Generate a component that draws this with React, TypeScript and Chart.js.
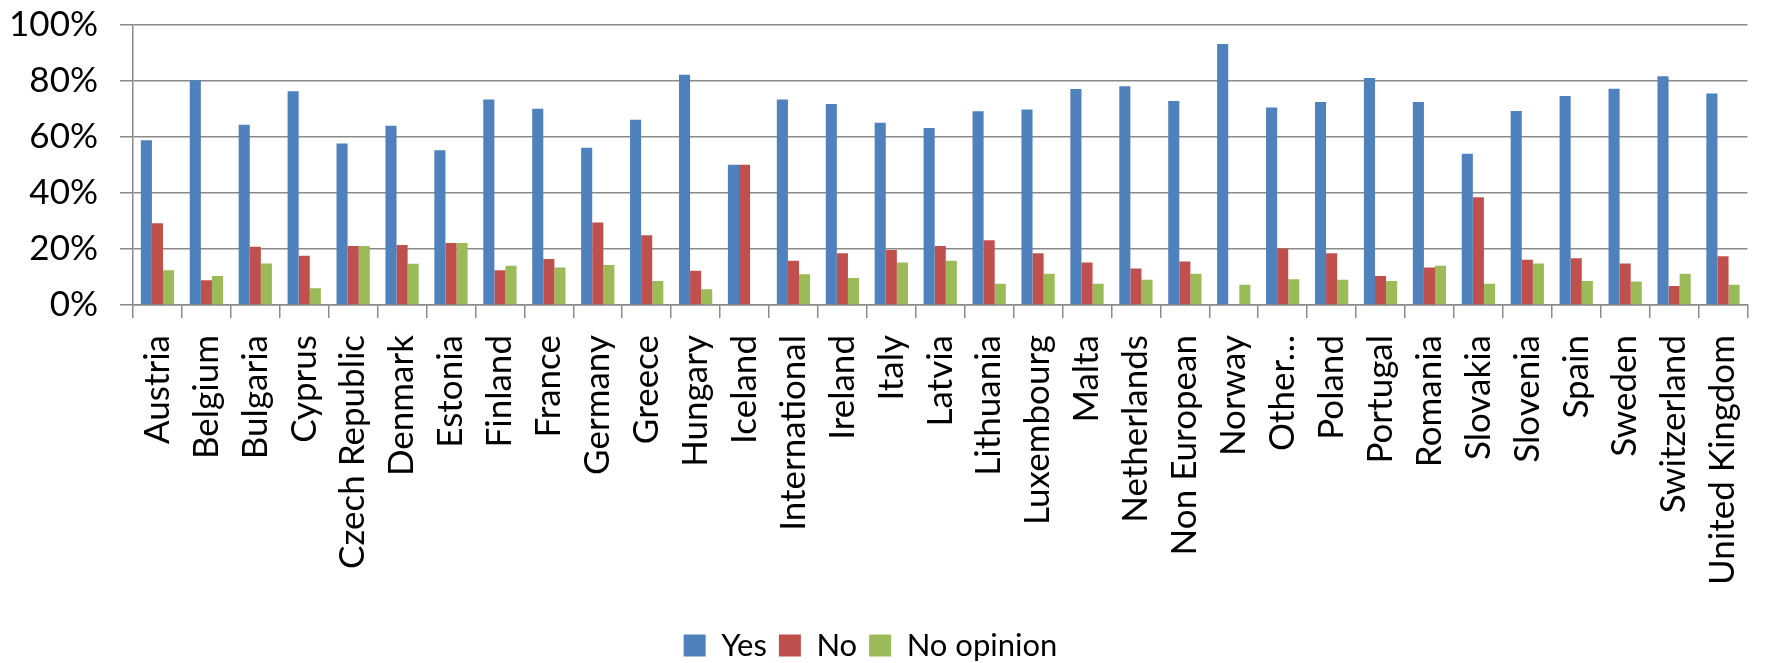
import React, { useEffect, useRef } from 'react';
import { Chart, registerables } from 'chart.js';

Chart.register(...registerables);

const categories = [
  'Austria', 'Belgium', 'Bulgaria', 'Cyprus', 'Czech Republic', 'Denmark', 'Estonia',
  'Finland', 'France', 'Germany', 'Greece', 'Hungary', 'Iceland', 'International',
  'Ireland', 'Italy', 'Latvia', 'Lithuania', 'Luxembourg', 'Malta', 'Netherlands',
  'Non European', 'Norway', 'Other…', 'Poland', 'Portugal', 'Romania', 'Slovakia',
  'Slovenia', 'Spain', 'Sweden', 'Switzerland', 'United Kingdom',
];

const yesValues = [
  58.8, 80.3, 64.4, 76.3, 57.7, 64.0, 55.3, 73.4, 70.1, 56.2, 66.2, 82.2, 50.1, 73.4,
  71.8, 65.1, 63.2, 69.2, 69.8, 77.1, 78.1, 72.9, 93.2, 70.5, 72.5, 81.1, 72.5, 54.0,
  69.3, 74.6, 77.2, 81.7, 75.5,
];

const noValues = [
  29.2, 8.8, 20.8, 17.6, 21.1, 21.4, 22.1, 12.4, 16.4, 29.5, 24.9, 12.2, 50.1, 15.8,
  18.5, 19.6, 21.1, 23.1, 18.5, 15.2, 13.0, 15.5, 0, 20.2, 18.5, 10.4, 13.4, 38.5,
  16.2, 16.7, 14.8, 6.8, 17.4,
];

const noOpinionValues = [
  12.4, 10.4, 14.8, 6.0, 21.1, 14.7, 22.1, 14.0, 13.4, 14.3, 8.6, 5.6, 0, 11.0,
  9.6, 15.2, 15.8, 7.6, 11.2, 7.6, 9.0, 11.2, 7.2, 9.2, 9.0, 8.6, 14.0, 7.6,
  14.8, 8.6, 8.4, 11.2, 7.2,
];

const seriesNames = ['Yes', 'No', 'No opinion'];
const seriesColors = ['#4F81BD', '#C0504D', '#9BBB59'];

const yMin = 0;
const yMax = 100;
const yStep = 20;

const CANVAS_W = 1823;
const CANVAS_H = 689;
const CANVAS_LEFT = -41;
const CANVAS_TOP = -18;

export default function App() {
  const canvasRef = useRef<HTMLCanvasElement | null>(null);

  useEffect(() => {
    if (!canvasRef.current) return;
    const gridColor = '#8a8a8a';
    const fontFamily = 'Lato, "Open Sans", sans-serif';
    const chart = new Chart(canvasRef.current, {
      type: 'bar',
      data: {
        labels: categories,
        datasets: [yesValues, noValues, noOpinionValues].map((vals, i) => ({
          label: seriesNames[i],
          data: vals,
          backgroundColor: seriesColors[i],
          borderWidth: 0,
          categoryPercentage: 0.68,
          barPercentage: 1.0,
        })),
      },
      options: {
        animation: false,
        responsive: false,
        maintainAspectRatio: false,
        layout: { padding: { top: 10, left: 0, right: 0, bottom: 0 } },
        plugins: {
          tooltip: { enabled: false },
          legend: {
            position: 'bottom',
            labels: {
              boxWidth: 22,
              boxHeight: 22,
              padding: 12,
              color: '#000',
              font: { family: fontFamily, size: 31 },
            },
          },
        },
        scales: {
          x: {
            grid: {
              offset: true,
              drawOnChartArea: false,
              drawTicks: true,
              tickLength: 13,
              color: gridColor,
              lineWidth: 1.5,
            },
            border: { color: gridColor, width: 1.5 },
            ticks: {
              autoSkip: false,
              maxRotation: 90,
              minRotation: 90,
              padding: 17,
              color: '#000',
              font: { family: fontFamily, size: 35 },
            },
            afterFit: (scale: any) => {
              scale.height = 313;
            },
          },
          y: {
            min: yMin,
            max: yMax,
            ticks: {
              stepSize: yStep,
              padding: 22,
              color: '#000',
              font: { family: fontFamily, size: 35 },
              callback: (v: any) => `${v}%`,
            },
            grid: {
              color: gridColor,
              lineWidth: 1.5,
              tickLength: 13,
            },
            border: { color: gridColor, width: 1.5 },
            afterFit: (scale: any) => {
              scale.width = 174;
            },
          },
        },
      },
    });
    return () => chart.destroy();
  }, []);

  return (
    <div
      style={{
        position: 'fixed',
        left: 0,
        top: 0,
        width: 1779,
        height: 663,
        overflow: 'hidden',
        background: '#fff',
      }}
    >
      <canvas
        ref={canvasRef}
        width={CANVAS_W}
        height={CANVAS_H}
        style={{ position: 'absolute', left: CANVAS_LEFT, top: CANVAS_TOP, width: CANVAS_W, height: CANVAS_H }}
      />
    </div>
  );
}
